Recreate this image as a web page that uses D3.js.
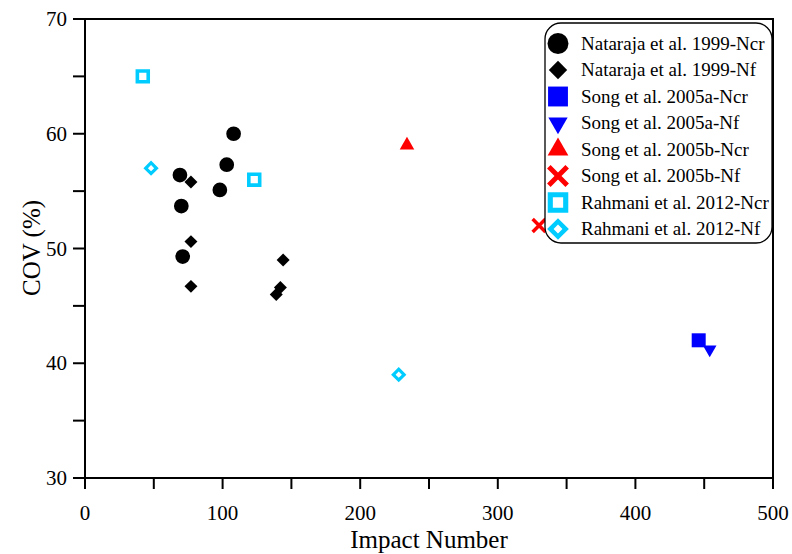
<!DOCTYPE html>
<html>
<head>
<meta charset="utf-8">
<script src="https://cdnjs.cloudflare.com/ajax/libs/d3/7.8.5/d3.min.js"></script>
<title>COV vs Impact Number</title>
<style>
body{ margin:0; padding:0; background:#fff; }
svg{ display:block; font-family:"Liberation Serif","Times New Roman",serif; }
</style>
</head>
<body>
<div id="chart"></div>
<script>
// series names, in legend order
var seriesNames = ["Nataraja et al. 1999-Ncr","Nataraja et al. 1999-Nf","Song et al. 2005a-Ncr","Song et al. 2005a-Nf",
    "Song et al. 2005b-Ncr","Song et al. 2005b-Nf","Rahmani et al. 2012-Ncr","Rahmani et al. 2012-Nf"];
// impact numbers and COV (%) per series
var natNcrX = [108, 103, 98, 69, 70, 71];
var natNcrY = [60.0, 57.3, 55.1, 56.4, 53.7, 49.3];
var natNfX = [77, 77, 77, 144, 142, 139];
var natNfY = [55.8, 50.6, 46.7, 49.0, 46.6, 46.0];
var songANcrX = [446], songANcrY = [42.0];
var songANfX = [454], songANfY = [41.2];
var songBNcrX = [234], songBNcrY = [59.0];
var songBNfX = [330], songBNfY = [52.0];
var rahNcrX = [42, 123], rahNcrY = [65.0, 56.0];
var rahNfX = [48, 228], rahNfY = [57.0, 39.0];
var xTicks = [0, 100, 200, 300, 400, 500];
var yTicks = [30, 40, 50, 60, 70];

var W = 792, H = 554;
var x = d3.scaleLinear().domain([0, 500]).range([85, 773]);
var y = d3.scaleLinear().domain([30, 70]).range([478, 19]);

var svg = d3.select("#chart").append("svg").attr("width", W).attr("height", H);

// marker styles
var styles = [
    {type:d3.symbolCircle, size:170, fill:"#000", rot:0},
    {type:d3.symbolSquare, size:84, fill:"#000", rot:45},
    {type:d3.symbolSquare, size:196, fill:"#0000ff", rot:0},
    {type:d3.symbolTriangle, size:80, fill:"#0000ff", rot:180},
    {type:d3.symbolTriangle, size:92, fill:"#ff0000", rot:0},
    {type:d3.symbolTimes, size:110, stroke:"#ff0000", sw:3.5, rot:0},
    {type:d3.symbolSquare, size:118, stroke:"#00ccff", sw:3.6, fill:"#fff", rot:0},
    {type:d3.symbolSquare, size:58, stroke:"#00ccff", sw:3.2, fill:"#fff", rot:45}
];
var seriesX = [natNcrX, natNfX, songANcrX, songANfX, songBNcrX, songBNfX, rahNcrX, rahNfX];
var seriesY = [natNcrY, natNfY, songANcrY, songANfY, songBNcrY, songBNfY, rahNcrY, rahNfY];

function drawMark(g, st, cx, cy, k){
    var p = d3.symbol().type(st.type).size(st.size * k * k)();
    g.append("path")
        .attr("d", p)
        .attr("transform", "translate(" + cx + "," + cy + ") rotate(" + st.rot + ")")
        .attr("fill", st.fill || "none")
        .attr("stroke", st.stroke || "none")
        .attr("stroke-width", st.sw ? st.sw * k : 0);
}

// axes + frame
var axisG = svg.append("g").attr("stroke", "#000").attr("stroke-width", 2);
axisG.append("rect").attr("x", x(0)).attr("y", y(70))
    .attr("width", x(500) - x(0)).attr("height", y(30) - y(70)).attr("fill", "none");

d3.range(0, 501, 50).forEach(function(v){
    axisG.append("line").attr("x1", x(v)).attr("x2", x(v)).attr("y1", y(30)).attr("y2", y(30) + 11);
});
d3.range(30, 71, 5).forEach(function(v){
    axisG.append("line").attr("x1", x(0) - 12).attr("x2", x(0)).attr("y1", y(v)).attr("y2", y(v));
});

svg.selectAll(".xt").data(xTicks).enter().append("text")
    .attr("x", function(d){ return x(d); })
    .attr("y", y(30) + 42)
    .attr("text-anchor", "middle")
    .attr("font-size", 21)
    .text(function(d){ return d; });
svg.selectAll(".yt").data(yTicks).enter().append("text")
    .attr("x", x(0) - 18)
    .attr("y", function(d){ return y(d) + 7; })
    .attr("text-anchor", "end")
    .attr("font-size", 21)
    .text(function(d){ return d; });

svg.append("text").attr("x", 429).attr("y", 548).attr("text-anchor", "middle")
    .attr("font-size", 25).text("Impact Number");
svg.append("text").attr("transform", "translate(40,248) rotate(-90)").attr("text-anchor", "middle")
    .attr("font-size", 25).text("COV (%)");

// points
var ptsG = svg.append("g");
seriesX.forEach(function(xs, i){
    xs.forEach(function(v, j){
        drawMark(ptsG, styles[i], x(v), y(seriesY[i][j]), 1);
    });
});

// legend
var leg = svg.append("g");
leg.append("rect").attr("x", 545).attr("y", 23).attr("width", 227).attr("height", 220)
    .attr("rx", 16).attr("ry", 16).attr("fill", "#fff").attr("stroke", "#000").attr("stroke-width", 1.3);
seriesNames.forEach(function(name, i){
    var cy = 43.5 + i * 26.5;
    drawMark(leg, styles[i], 558, cy, 1.42);
    leg.append("text").attr("x", 581).attr("y", cy + 6).attr("font-size", 19).text(name);
});
</script>
</body>
</html>
